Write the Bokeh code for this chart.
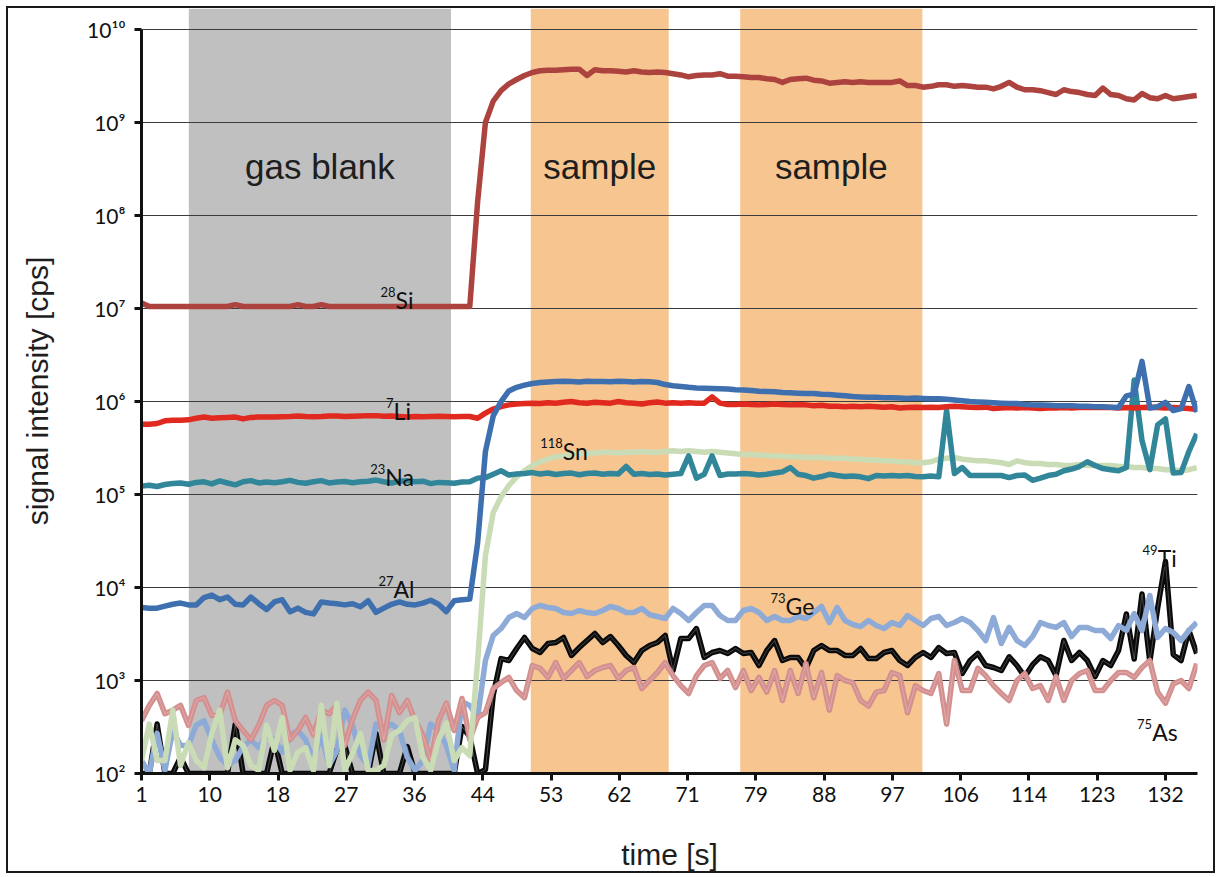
from bokeh.plotting import figure
from bokeh.models import BoxAnnotation, FixedTicker, CustomJSTickFormatter, ColumnDataSource, Range1d
from bokeh.core.properties import value
from bokeh.embed import file_html
from bokeh.resources import INLINE

# ---------------- data ----------------
time_s = list(range(1, 137))

si28 = [1.15e7, 1.05e7, 1.05e7, 1.05e7, 1.05e7, 1.05e7, 1.05e7, 1.05e7, 1.05e7, 1.05e7,
        1.05e7, 1.05e7, 1.1e7, 1.05e7, 1.05e7, 1.05e7, 1.05e7, 1.05e7, 1.05e7, 1.05e7,
        1.1e7, 1.05e7, 1.05e7, 1.1e7, 1.05e7, 1.05e7, 1.05e7, 1.05e7, 1.05e7, 1.05e7,
        1.05e7, 1.05e7, 1.05e7, 1.05e7, 1.05e7, 1.05e7, 1.05e7, 1.05e7, 1.05e7, 1.05e7,
        1.05e7, 1.05e7, 1.05e7,
        1.4e8, 1.0e9, 1.7e9, 2.2e9, 2.6e9, 2.9e9, 3.2e9, 3.45e9, 3.6e9, 3.65e9,
        3.65e9, 3.7e9, 3.75e9, 3.75e9, 3.2e9, 3.7e9, 3.6e9, 3.6e9, 3.55e9, 3.5e9,
        3.6e9, 3.5e9, 3.45e9, 3.5e9, 3.45e9, 3.35e9, 3.25e9, 3.1e9, 3.2e9, 3.25e9,
        3.25e9, 3.35e9, 3.15e9, 3.15e9, 3.1e9, 3.05e9, 3.05e9, 2.95e9, 2.9e9, 2.7e9,
        2.9e9, 2.95e9, 3.0e9, 2.85e9, 2.8e9, 2.65e9, 2.7e9, 2.75e9, 2.7e9, 2.75e9,
        2.7e9, 2.7e9, 2.7e9, 2.7e9, 2.8e9, 2.5e9, 2.5e9, 2.4e9, 2.45e9, 2.55e9,
        2.55e9, 2.45e9, 2.5e9, 2.45e9, 2.4e9, 2.4e9, 2.3e9, 2.45e9, 2.7e9, 2.4e9,
        2.25e9, 2.25e9, 2.2e9, 2.1e9, 2.0e9, 2.25e9, 2.15e9, 2.1e9, 2.0e9, 1.95e9,
        2.35e9, 2.0e9, 1.95e9, 1.8e9, 1.75e9, 2.05e9, 1.85e9, 1.8e9, 1.95e9, 1.8e9,
        1.85e9, 1.9e9, 1.95e9]

li7 = [5.7e5, 5.7e5, 5.8e5, 6.2e5, 6.3e5, 6.3e5, 6.35e5, 6.6e5, 6.8e5, 6.6e5,
       6.7e5, 6.75e5, 6.8e5, 6.5e5, 6.75e5, 6.8e5, 6.8e5, 6.8e5, 6.85e5, 6.9e5,
       7.0e5, 6.9e5, 6.85e5, 6.9e5, 7.0e5, 7.0e5, 6.9e5, 6.95e5, 7.0e5, 7.05e5,
       7.05e5, 6.95e5, 7.0e5, 6.9e5, 6.8e5, 6.9e5, 6.85e5, 6.9e5, 6.95e5, 6.9e5,
       6.85e5, 6.9e5, 6.9e5,
       6.6e5, 7.5e5, 8.3e5, 8.8e5, 9.2e5, 9.4e5, 9.5e5, 9.6e5, 9.5e5, 9.7e5,
       9.6e5, 9.8e5, 1.0e6, 9.7e5, 9.6e5, 9.8e5, 9.7e5, 9.6e5, 1.0e6, 9.7e5,
       9.6e5, 9.4e5, 9.7e5, 9.9e5, 9.6e5, 9.7e5, 9.6e5, 9.7e5, 9.6e5, 9.6e5,
       1.12e6, 9.6e5, 9.3e5, 9.3e5, 9.4e5, 9.3e5, 9.2e5, 9.3e5, 9.4e5, 9.3e5,
       9.2e5, 9.3e5, 9.2e5, 9.0e5, 9.1e5, 8.9e5, 8.9e5, 8.8e5, 8.9e5, 8.8e5,
       8.9e5, 8.8e5, 8.7e5, 8.8e5, 8.5e5, 8.6e5, 8.7e5, 8.6e5, 8.7e5, 8.6e5,
       8.8e5, 8.9e5, 8.8e5, 8.7e5, 8.6e5, 8.7e5, 8.4e5, 8.5e5, 8.6e5, 8.5e5,
       8.6e5, 8.5e5, 8.4e5, 8.5e5, 8.5e5, 8.6e5, 8.5e5, 8.6e5, 8.7e5, 8.6e5,
       8.7e5, 8.6e5, 8.5e5, 8.6e5, 8.5e5, 8.6e5, 8.7e5, 8.6e5, 8.5e5, 8.6e5,
       8.5e5, 8.4e5, 8.2e5]

na23 = [1.23e5, 1.26e5, 1.22e5, 1.28e5, 1.31e5, 1.33e5, 1.29e5, 1.35e5, 1.37e5, 1.30e5,
        1.40e5, 1.33e5, 1.27e5, 1.37e5, 1.41e5, 1.33e5, 1.36e5, 1.34e5, 1.37e5, 1.42e5,
        1.35e5, 1.32e5, 1.37e5, 1.41e5, 1.33e5, 1.36e5, 1.38e5, 1.34e5, 1.37e5, 1.39e5,
        1.43e5, 1.37e5, 1.33e5, 1.39e5, 1.41e5, 1.37e5, 1.39e5, 1.31e5, 1.35e5, 1.34e5,
        1.32e5, 1.36e5, 1.37e5,
        1.50e5, 1.52e5, 1.65e5, 1.80e5, 1.62e5, 1.66e5, 1.68e5, 1.72e5, 1.66e5, 1.70e5,
        1.64e5, 1.68e5, 1.70e5, 1.63e5, 1.68e5, 1.70e5, 1.65e5, 1.68e5, 1.66e5, 2.00e5,
        1.65e5, 1.68e5, 1.64e5, 1.66e5, 1.62e5, 1.65e5, 1.68e5, 2.60e5, 1.50e5, 1.65e5,
        2.60e5, 1.60e5, 1.66e5, 1.66e5, 1.68e5, 1.66e5, 1.62e5, 1.65e5, 1.70e5, 1.75e5,
        1.95e5, 1.65e5, 1.60e5, 1.50e5, 1.56e5, 1.65e5, 1.60e5, 1.56e5, 1.58e5, 1.55e5,
        1.48e5, 1.60e5, 1.58e5, 1.60e5, 1.58e5, 1.60e5, 1.56e5, 1.55e5, 1.58e5, 1.55e5,
        8.00e5, 1.68e5, 1.95e5, 1.60e5, 1.60e5, 1.60e5, 1.60e5, 1.60e5, 1.52e5, 1.60e5,
        1.62e5, 1.42e5, 1.50e5, 1.60e5, 1.65e5, 1.80e5, 1.88e5, 2.00e5, 2.25e5, 2.05e5,
        1.90e5, 1.85e5, 1.80e5, 1.95e5, 1.70e6, 3.80e5, 1.85e5, 5.60e5, 6.50e5, 1.70e5,
        1.72e5, 2.90e5, 4.50e5]

al27 = [6.1e3, 6.0e3, 6.0e3, 6.3e3, 6.6e3, 6.8e3, 6.5e3, 6.5e3, 7.8e3, 8.3e3,
        7.4e3, 7.9e3, 6.6e3, 6.5e3, 7.9e3, 6.7e3, 5.8e3, 7.0e3, 7.4e3, 5.5e3,
        6.0e3, 5.4e3, 5.2e3, 7.0e3, 6.8e3, 6.7e3, 6.5e3, 6.7e3, 6.2e3, 7.2e3,
        5.4e3, 6.0e3, 6.6e3, 7.0e3, 6.6e3, 6.5e3, 6.8e3, 7.3e3, 6.6e3, 5.5e3,
        7.2e3, 7.4e3, 7.5e3,
        3.0e4, 2.9e5, 7.0e5, 1.0e6, 1.3e6, 1.42e6, 1.5e6, 1.56e6, 1.6e6, 1.62e6,
        1.64e6, 1.65e6, 1.64e6, 1.62e6, 1.65e6, 1.64e6, 1.64e6, 1.63e6, 1.65e6, 1.64e6,
        1.62e6, 1.64e6, 1.63e6, 1.6e6, 1.52e6, 1.48e6, 1.45e6, 1.42e6, 1.4e6, 1.39e6,
        1.38e6, 1.37e6, 1.36e6, 1.34e6, 1.33e6, 1.31e6, 1.29e6, 1.28e6, 1.27e6, 1.25e6,
        1.24e6, 1.23e6, 1.22e6, 1.22e6, 1.2e6, 1.19e6, 1.17e6, 1.15e6, 1.13e6, 1.12e6,
        1.11e6, 1.11e6, 1.1e6, 1.1e6, 1.09e6, 1.08e6, 1.09e6, 1.08e6, 1.07e6, 1.07e6,
        1.06e6, 1.04e6, 1.02e6, 1.0e6, 9.9e5, 9.8e5, 9.7e5, 9.6e5, 9.5e5, 9.5e5,
        9.3e5, 9.2e5, 9.2e5, 9.1e5, 9.0e5, 9.0e5, 9.0e5, 8.9e5, 8.9e5, 8.8e5,
        8.8e5, 8.7e5, 8.6e5, 1.15e6, 1.2e6, 2.7e6, 8.5e5, 8.8e5, 9.8e5, 8.0e5,
        8.4e5, 1.45e6, 7.7e5]

sn118 = [138, 340, 138, 138, 480, 122, 215, 138, 115, 270,
         480, 115, 230, 200, 122, 108, 330, 177, 400, 108,
         170, 190, 108, 540, 122, 570, 108, 165, 270, 108,
         108, 122, 260, 290, 370, 400, 150, 108, 230, 350,
         138, 190, 156,
         1.6e3, 2.2e4, 6.4e4, 9.4e4, 1.25e5, 1.55e5, 1.8e5, 2.05e5, 2.25e5, 2.4e5,
         2.55e5, 2.6e5, 2.7e5, 2.75e5, 2.75e5, 2.8e5,
         2.85e5, 2.85e5, 2.8e5, 2.85e5, 2.85e5, 2.9e5, 2.85e5, 2.85e5, 2.9e5, 2.95e5,
         2.9e5, 2.95e5, 2.9e5, 2.85e5, 2.9e5, 2.85e5, 2.8e5, 2.75e5, 2.7e5, 2.7e5,
         2.65e5, 2.65e5, 2.6e5, 2.6e5, 2.55e5, 2.55e5, 2.5e5, 2.5e5, 2.5e5, 2.45e5,
         2.45e5, 2.45e5, 2.4e5, 2.4e5, 2.35e5, 2.35e5, 2.3e5, 2.3e5, 2.25e5, 2.25e5,
         2.2e5, 2.2e5, 2.25e5, 2.4e5, 2.45e5, 2.5e5, 2.4e5, 2.35e5, 2.3e5, 2.3e5,
         2.25e5, 2.2e5, 2.1e5, 2.3e5, 2.2e5, 2.15e5, 2.15e5, 2.1e5, 2.1e5, 2.05e5,
         2.05e5, 2.1e5, 2.05e5, 2.05e5, 2.05e5, 2.05e5, 2.0e5, 2.0e5, 1.95e5, 1.95e5,
         1.9e5, 1.9e5, 1.85e5, 1.85e5, 1.8e5, 1.85e5, 1.95e5]

ge73 = [138, 100, 270, 108, 290, 200, 200, 330, 370, 230,
        150, 122, 138, 195, 230, 190, 260, 230, 170, 260,
        290, 230, 138, 260, 122, 177, 480, 330, 156, 122,
        340, 300, 340, 290, 150, 108, 138, 340, 290, 200,
        108, 590, 540,
        400, 1640, 3050, 3620, 4760, 5250, 4760, 5950, 6400, 6100,
        5950, 5380, 5250, 5660, 5380, 5250, 5660, 6250, 5950, 5380,
        5380, 5950, 5100, 4880, 4640, 5950, 5250, 4420, 5380, 6400,
        6400, 5000, 4420, 4420, 5660, 5950, 5380, 4420, 4880, 4420,
        4420, 4880, 4640, 5380, 6250, 4200, 6100, 4420, 4000, 3800,
        4420, 3900, 3620, 4200, 3900, 5000, 4420, 3900, 4640, 4880,
        3900, 4200, 4640, 4200, 3450, 2690, 4760, 2500, 3720, 2690,
        2380, 2970, 4200, 3900, 3720, 4200, 2970, 3720, 3720, 3450,
        3450, 2830, 3900, 3450, 5250, 3450, 8200, 2900, 3620, 3280,
        2690, 3450, 4200]

ti49 = [100, 100, 340, 100, 100, 150, 100, 100, 100, 100,
        100, 100, 340, 100, 100, 100, 100, 230, 100, 100,
        100, 100, 100, 100, 100, 180, 200, 100, 100, 100,
        270, 100, 100, 100, 195, 100, 100, 100, 100, 100,
        100, 320, 250, 100, 110, 700,
        1720, 1640, 2210, 2900, 2210, 2000, 2500, 2560, 2900, 1860,
        2260, 2690, 3200, 2560, 2970, 2380, 1860, 1560, 2100, 2380,
        2560, 3050, 1280, 2830, 2830, 3620, 1770, 2000, 2100, 1950,
        2210, 1950, 2000, 1450, 2100, 2690, 1640, 1770, 1770, 1350,
        2100, 2380, 2100, 2100, 1860, 1860, 2210, 1720, 1720, 2000,
        2100, 1640, 1450, 1770, 2000, 1770, 2260, 1950, 2000, 1190,
        1640, 1950, 1450, 1380, 1280, 1800, 1450, 1100, 1480, 1800,
        1640, 1130, 2690, 1640, 2000, 1640, 1100, 1640, 1450, 2100,
        5200, 1700, 8500, 1600, 6000, 19000, 1900, 1640, 3450, 1950]

as75 = [370, 540, 725, 440, 480, 540, 330, 610, 655, 420,
        420, 750, 370, 290, 230, 330, 540, 610, 540, 230,
        290, 400, 260, 480, 440, 540, 200, 380, 610, 750,
        610, 230, 690, 450, 610, 370, 260, 138, 370, 570,
        290, 640, 230,
        400, 450, 820, 950, 1080, 780, 655, 1450, 1350, 1080,
        1560, 1050, 1280, 1560, 1100, 1280, 1380, 1450, 1050, 1280,
        1380, 820, 1000, 1220, 1560, 1130, 880, 725, 1130, 1450,
        1560, 1050, 1280, 840, 1280, 780, 1080, 750, 1280, 610,
        1280, 725, 1520, 655, 1220, 480, 1130, 1000, 950, 610,
        530, 750, 780, 1220, 1130, 450, 880, 780, 725, 1190,
        340, 1640, 780, 780, 1350, 1130, 880, 725, 610, 1000,
        1190, 820, 880, 610, 1100, 610, 1000, 1190, 1280, 780,
        780, 1000, 1220, 1220, 1080, 1380, 1640, 750, 570, 920,
        1000, 820, 1520]

series_names = ["Ti", "Ge", "As", "Sn", "Na", "Li", "Al", "Si"]
series_values = [ti49, ge73, as75, sn118, na23, li7, al27, si28]
series_colors = ["#0a0a0a", "#8eabd7", "#d48f8f", "#cadcb5", "#31869a", "#e0291f", "#3e6fae", "#ad433f"]

x_tick_labels = ["1", "10", "18", "27", "36", "44", "53", "62", "71", "79",
                 "88", "97", "106", "114", "123", "132"]
y_ticks = [1e2, 1e3, 1e4, 1e5, 1e6, 1e7, 1e8, 1e9, 1e10]

band_start = [7.05, 50.8, 77.6]
band_end = [40.6, 68.45, 100.9]
band_names = ["gas blank", "sample", "sample"]
band_colors = ["#c0c0c0", "#f6c590", "#f6c590"]

iso_names = ["Si", "Li", "Na", "Al", "Sn", "Ge", "Ti", "As"]
iso_mass = ["28", "7", "23", "27", "118", "73", "49", "75"]
iso_x = [33.5, 33.25, 32.2, 33.25, 54.9, 83.4, 131.0, 130.3]
iso_y = [1.22e7, 8.0e5, 1.56e5, 9.75e3, 2.97e5, 6.4e3, 2.1e4, 276]

# ---------------- figure ----------------
p = figure(width=1209, height=867,
           x_range=Range1d(1, 136.1), y_range=Range1d(100, 10 ** 10.226),
           y_axis_type="log", output_backend="svg", toolbar_location=None,
           min_border_left=133, min_border_right=20, min_border_top=0, min_border_bottom=102)
p.margin = (6, 2, 0, 6)
p.styles = {"border": "2px solid #1a1a1a"}
p.outline_line_color = None
p.background_fill_color = "white"
p.border_fill_color = "white"

for s, e, c in zip(band_start, band_end, band_colors):
    p.add_layout(BoxAnnotation(left=s, right=e, fill_color=c, fill_alpha=1.0,
                               line_color=None, level="image"))

band_src = ColumnDataSource(dict(x=[(s + e) / 2 for s, e in zip(band_start, band_end)],
                                 y=[3.37e8] * 3, t=band_names))
p.text(x="x", y="y", text="t", source=band_src, text_font=value("Liberation Sans"),
       text_font_size="35px", text_align="center", text_baseline="alphabetic",
       text_color="#1e1e1e")

for name, vals, col in zip(series_names, series_values, series_colors):
    p.line(time_s[:len(vals)], vals, line_color=col, line_width=5.5, line_join="round")
    if name in ("Ti", "As"):
        p.line(time_s[:len(vals)], vals, line_color="white", line_width=0.8,
               line_alpha=0.3, line_join="round")

iso_src = ColumnDataSource(dict(x=iso_x, y=iso_y, n=iso_names, m=iso_mass))
p.text(x="x", y="y", text="n", source=iso_src, text_font=value("Lato"),
       text_font_size="23px", text_align="left", text_baseline="alphabetic",
       text_color="#111111")
p.text(x="x", y="y", text="m", source=iso_src, text_font=value("Lato"),
       text_font_size="13px", text_align="right", text_baseline="alphabetic",
       text_color="#111111", y_offset=-8)

# grid
p.xgrid.visible = False
p.ygrid.ticker = FixedTicker(ticks=y_ticks)
p.ygrid.grid_line_color = "#3c3c3c"
p.ygrid.grid_line_width = 1

# axes
for ax in (p.xaxis[0], p.yaxis[0]):
    ax.axis_line_width = 3
    ax.axis_line_color = "#111111"
    ax.major_tick_line_width = 3
    ax.major_tick_line_color = "#111111"
    ax.major_tick_out = 7
    ax.major_tick_in = 0
    ax.minor_tick_line_color = None
    ax.major_label_text_font = "Lato"
    ax.major_label_text_font_size = "21px"
    ax.major_label_text_color = "#111111"
    ax.axis_label_text_font = "Liberation Sans"
    ax.axis_label_text_font_size = "30px"
    ax.axis_label_text_font_style = "normal"
    ax.axis_label_text_color = "#1e1e1e"

p.xaxis.ticker = FixedTicker(ticks=[1 + k * 131 / 15 for k in range(16)])
p.xaxis.formatter = CustomJSTickFormatter(args=dict(labels=x_tick_labels), code="""
const k = Math.round((tick - 1) / (131 / 15));
return labels[k];
""")
p.xaxis.major_label_standoff = 6
p.xaxis.axis_label = "time [s]"
p.xaxis.axis_label_standoff = 33

p.yaxis.ticker = FixedTicker(ticks=y_ticks)
p.yaxis.bounds = (1e2, 1e10)
p.yaxis.formatter = CustomJSTickFormatter(code=r"""
const sup = ["\u2070", "\u00b9", "\u00b2", "\u00b3", "\u2074", "\u2075", "\u2076", "\u2077", "\u2078", "\u2079"];
const e = Math.round(Math.log10(tick));
return "10" + String(e).split("").map(c => sup[parseInt(c)]).join("");
""")
p.yaxis.major_label_standoff = 9
p.yaxis.axis_label = "signal intensity [cps]"
p.yaxis.axis_label_standoff = 30

with open("out.html", "w", encoding="utf-8") as f:
    f.write(file_html(p, INLINE))
